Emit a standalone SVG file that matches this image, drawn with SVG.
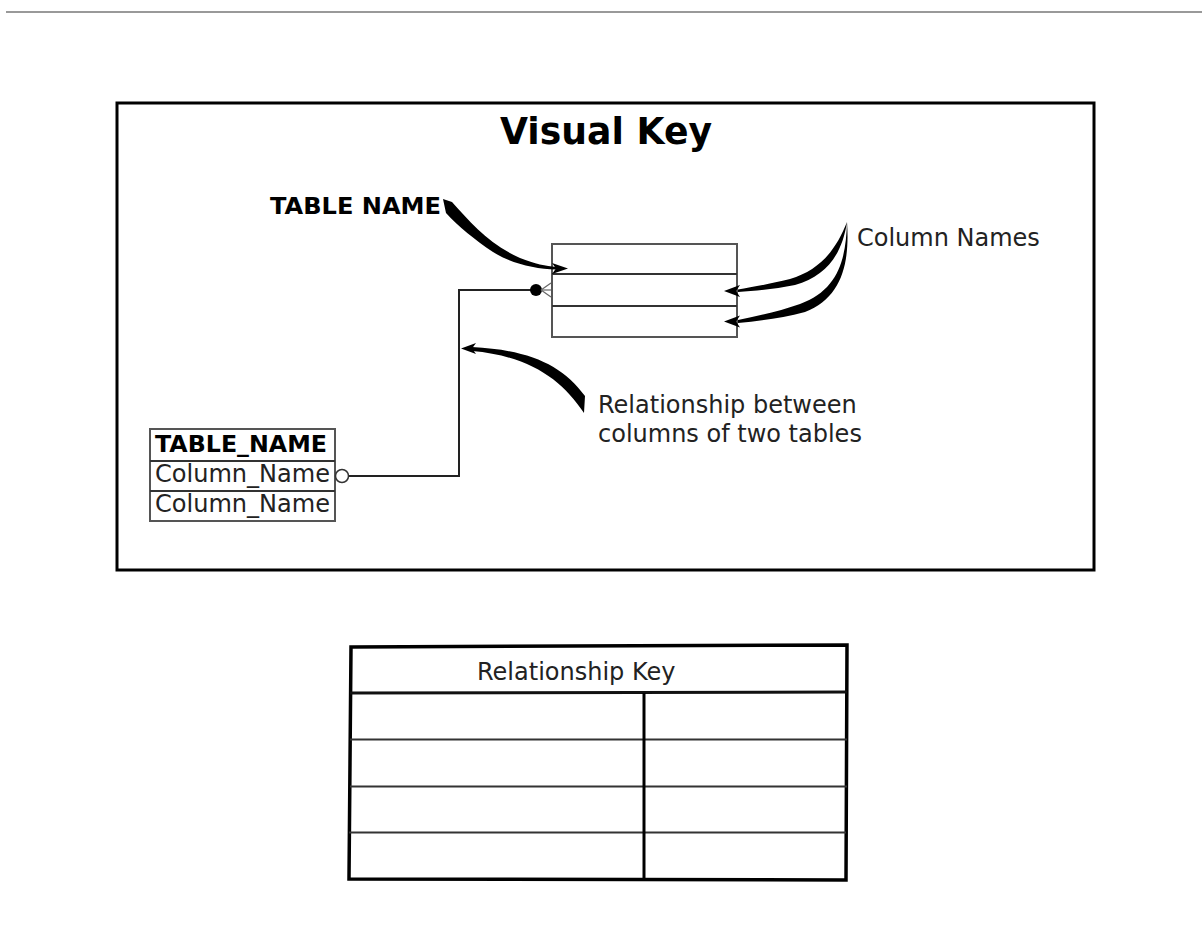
<svg xmlns="http://www.w3.org/2000/svg" width="1202" height="948" viewBox="0 0 1202 948">
  <style>
    .lbl { font-family: "DejaVu Sans", "Liberation Sans", sans-serif; font-size: 24px; fill: #222; }
    .bold { font-family: "DejaVu Sans", "Liberation Sans", sans-serif; font-weight: bold; fill: #000; }
    .tbl { fill: #fff; stroke: #555; stroke-width: 2; }
    .row { stroke: #333; stroke-width: 2; fill: none; }
    .wire { stroke: #222; stroke-width: 2; fill: none; }
    .ink { fill: #000; stroke: none; }
  </style>

  <!-- page rule -->
  <line x1="6" y1="12" x2="1202" y2="12" stroke="#999" stroke-width="2"/>

  <!-- Visual Key frame -->
  <g id="visual-key">
    <rect x="117" y="103" width="977" height="467" fill="#fff" stroke="#000" stroke-width="3"/>
    <text class="bold" x="606" y="144" font-size="38" text-anchor="middle" textLength="212" lengthAdjust="spacingAndGlyphs">Visual Key</text>
  </g>

  <!-- sample table with three rows -->
  <g id="sample-table">
    <rect class="tbl" x="552" y="244" width="185" height="93"/>
    <line class="row" x1="552" y1="274" x2="737" y2="274"/>
    <line class="row" x1="552" y1="306" x2="737" y2="306"/>
  </g>

  <!-- small named table -->
  <g id="named-table">
    <rect class="tbl" x="150" y="429" width="185" height="92"/>
    <line class="row" x1="150" y1="461" x2="335" y2="461"/>
    <line class="row" x1="150" y1="491" x2="335" y2="491"/>
    <text class="bold" x="155" y="452" font-size="23" textLength="172" lengthAdjust="spacingAndGlyphs">TABLE_NAME</text>
    <text class="lbl" x="155" y="482" textLength="175" lengthAdjust="spacingAndGlyphs">Column_Name</text>
    <text class="lbl" x="155" y="512" textLength="175" lengthAdjust="spacingAndGlyphs">Column_Name</text>
  </g>

  <!-- callout labels -->
  <g id="label-table-name">
    <text class="bold" x="270" y="214" font-size="23" textLength="171" lengthAdjust="spacingAndGlyphs">TABLE NAME</text>
  </g>
  <g id="label-column-names">
    <text class="lbl" x="857" y="246">Column Names</text>
  </g>
  <g id="label-relationship">
    <text class="lbl" x="598" y="413">Relationship between</text>
    <text class="lbl" x="598" y="442">columns of two tables</text>
  </g>

  <!-- connectors and callout arrows -->
  <g id="connectors">
    <!-- relationship line between the two tables -->
    <polyline class="wire" points="349,476 459,476 459,290 531,290"/>
    <circle cx="342" cy="476" r="6.5" fill="#fff" stroke="#333" stroke-width="1.5"/>
    <circle cx="536" cy="290" r="6" class="ink"/>
    <g stroke="#666" stroke-width="1.2">
      <line x1="541" y1="290" x2="551" y2="283"/>
      <line x1="541" y1="290" x2="551" y2="290"/>
      <line x1="541" y1="290" x2="551" y2="297"/>
    </g>

    <!-- TABLE NAME callout -->
    <path class="ink" d="M443,199 L452,202 C470,222 490,245 520,258 C535,264 546,266 556,267 L556,269.5 C535,269 510,263 493,252 C475,240 458,226 446,213 Z"/>
    <polygon class="ink" points="552,263 568,268.5 552,274 556,268.5"/>

    <!-- Column Names callouts -->
    <path class="ink" d="M847,222 C836,250 820,270 790,279 C770,284 752,287 738,289.5 L738,292 C755,291 775,289 795,285 C826,276 842,255 847,222 Z"/>
    <path class="ink" d="M847,222 C846,260 838,290 800,304 C780,311 758,316 738,320 L738,323 C760,321 782,318 805,312 C841,298 850,265 847,222 Z"/>
    <polygon class="ink" points="724,291 740,285 736,291 740,297"/>
    <polygon class="ink" points="724,321.5 740,315.5 736,321.5 740,327.5"/>

    <!-- relationship callout -->
    <path class="ink" d="M472,347 C530,350 562,365 585,396 L584,413 C562,380 530,356 472,351 Z"/>
    <polygon class="ink" points="461,348.5 476,343 472,348.5 476,354"/>
  </g>

  <!-- Relationship Key table -->
  <g id="relationship-key">
    <polygon points="351,647 847,645 846,880 349,879" fill="#fff" stroke="#000" stroke-width="3.5"/>
    <line x1="350" y1="693" x2="847" y2="692" stroke="#111" stroke-width="3"/>
    <line x1="350" y1="739.5" x2="847" y2="739.5" stroke="#333" stroke-width="2"/>
    <line x1="350" y1="786.5" x2="847" y2="786.5" stroke="#333" stroke-width="2"/>
    <line x1="349" y1="832.5" x2="846" y2="832.5" stroke="#333" stroke-width="2"/>
    <line x1="644" y1="693" x2="644" y2="880" stroke="#000" stroke-width="3"/>
    <text class="lbl" x="477" y="680">Relationship Key</text>
  </g>
</svg>
